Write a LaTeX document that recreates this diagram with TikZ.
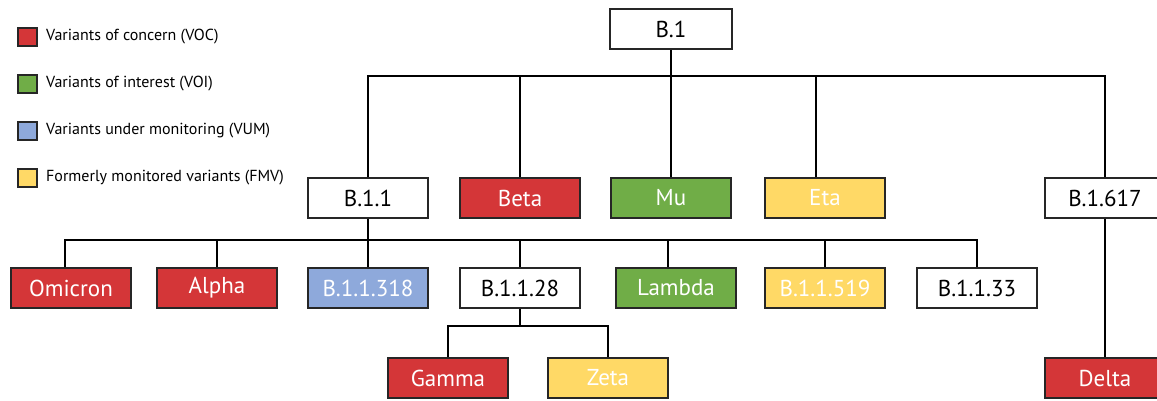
\documentclass[tikz,border=0pt]{standalone}
\usepackage{fontspec}
\setmainfont{PT Sans}
\usetikzlibrary{positioning,calc}

\definecolor{voc}{HTML}{D43638}
\definecolor{voi}{HTML}{70AD47}
\definecolor{vum}{HTML}{8EA9DB}
\definecolor{fmv}{HTML}{FFD966}

\tikzset{
    lineage/.style={draw=black!85, line width=0.9pt, minimum width=60pt, minimum height=20pt,
        inner sep=0pt, font=\fontsize{11.5}{13}\selectfont},
    plainbox/.style={lineage, fill=white, text=black},
    vocbox/.style={lineage, fill=voc, text=white},
    voibox/.style={lineage, fill=voi, text=white},
    vumbox/.style={lineage, fill=vum, text=white},
    fmvbox/.style={lineage, fill=fmv, text=white},
    link/.style={line width=1.3pt},
    keybox/.style={draw=black!85, line width=0.8pt, minimum width=9.5pt, minimum height=9pt, inner sep=0pt},
    keytext/.style={inner sep=0pt, font=\fontsize{8}{9}\selectfont}
}

\begin{document}
\begin{tikzpicture}[x=0.5pt, y=-0.5pt]

    % Page frame
    \fill[white] (0,0) rectangle (1157,401);
    \useasboundingbox (0,0) rectangle (1157,401);

    % Legend
    \foreach \c/\y/\t in {voc/37/Variants of concern (VOC),
                          voi/84/Variants of interest (VOI),
                          vum/131/Variants under monitoring (VUM),
                          fmv/178/Formerly monitored variants (FMV)} {
        \node[keybox, fill=\c] (key-\c) at (27.5,\y) {};
        \node[keytext, right=4pt of key-\c] (label-\c) {\t};
    }

    % Root
    \node[plainbox, minimum width=61pt] (b1) at (671,29) {B.1};

    % First level
    \node[plainbox] (b11) at (368,198) {B.1.1};
    \node[vocbox] (beta) at (520,198) {Beta};
    \node[voibox] (mu) at (671,198) {Mu};
    \node[fmvbox] (eta) at (825,198) {Eta};
    \node[plainbox] (b1617) at (1105,198) {B.1.617};

    % Second level
    \node[vocbox] (omicron) at (71,288) {Omicron};
    \node[vocbox] (alpha) at (217,288) {Alpha};
    \node[vumbox] (b11318) at (368,288) {B.1.1.318};
    \node[plainbox] (b1128) at (520,288) {B.1.1.28};
    \node[voibox] (lambda) at (676,288) {Lambda};
    \node[fmvbox] (b11519) at (825,288) {B.1.1.519};
    \node[plainbox] (b1133) at (977,288) {B.1.1.33};

    % Third level
    \node[vocbox] (gamma) at (448,378) {Gamma};
    \node[fmvbox] (zeta) at (608,378) {Zeta};
    \node[vocbox] (delta) at (1105,378) {Delta};

    % Bus heights
    \coordinate (bus1) at (0,76);
    \coordinate (bus2) at (0,240);
    \coordinate (bus3) at (0,326);

    % Off-centre attachment points
    \coordinate (eta-top) at ($(eta.north)+(-9,0)$);
    \coordinate (omicron-top) at ($(omicron.north)+(-6,0)$);
    \coordinate (lambda-top) at ($(lambda.north)+(-8,0)$);

    % B.1 branches
    \draw[link] (b1.south) -- (b1 |- bus1);
    \draw[link] (b11.north) |- (b1617.north |- bus1) -- (b1617.north);
    \foreach \n in {beta, mu}
        \draw[link] (\n.north) -- (\n |- bus1);
    \draw[link] (eta-top) -- (eta-top |- bus1);

    % B.1.1 branches
    \draw[link] (b11.south) -- (b11 |- bus2);
    \draw[link] (omicron-top) |- (b1133.north |- bus2) -- (b1133.north);
    \foreach \n in {alpha, b11318, b1128, b11519}
        \draw[link] (\n.north) -- (\n |- bus2);
    \draw[link] (lambda-top) -- (lambda-top |- bus2);

    % B.1.1.28 branches
    \draw[link] (b1128.south) -- (b1128 |- bus3);
    \draw[link] (gamma.north) |- (zeta.north |- bus3) -- (zeta.north);

    % B.1.617 branch
    \draw[link] (b1617.south) -- (delta.north);

\end{tikzpicture}
\end{document}
